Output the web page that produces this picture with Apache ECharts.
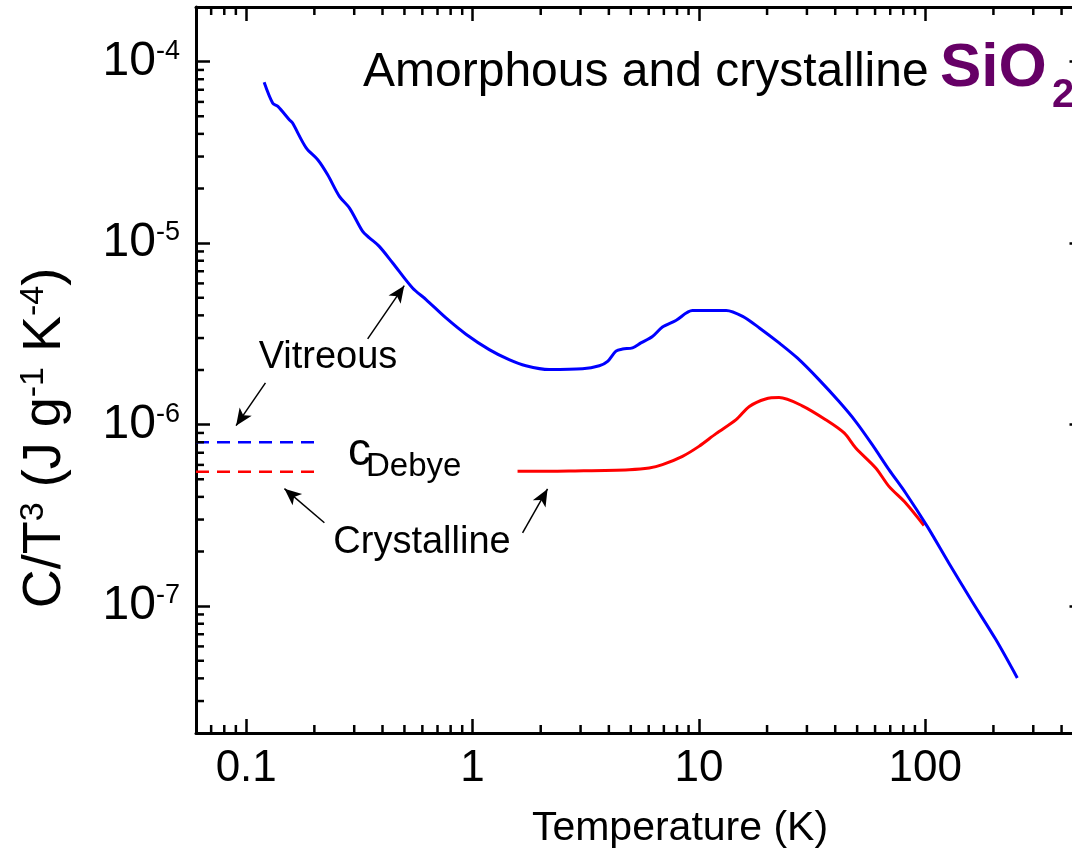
<!DOCTYPE html>
<html>
<head>
<meta charset="utf-8">
<script src="https://cdn.jsdelivr.net/npm/echarts@6/dist/echarts.min.js"></script>
<style>
html, body { margin: 0; padding: 0; background: #fff; overflow: hidden; width: 1072px; height: 852px; }
#chart { width: 1100px; height: 852px; }
</style>
</head>
<body>
<div id="chart"></div>
<script>
// ---- data ----
const vitreousT = [0.12, 0.131, 0.138, 0.155, 0.160, 0.184, 0.207, 0.229, 0.258, 0.286, 0.327, 0.35, 0.387, 0.443, 0.543, 0.623, 0.763, 0.935, 1.185, 1.45, 1.72, 2.18, 3.06, 3.63, 3.95, 4.30, 4.60, 5.09, 5.54, 6.23, 6.90, 7.91, 9.36, 11.1, 13.2, 15.6, 18.5, 22.6, 27.2, 33.9, 41.6, 49.3, 58.3, 69.1, 81.9, 102, 127, 161, 205, 255];
const vitreousC = [7.7e-5, 5.9e-5, 5.67e-5, 4.79e-5, 4.6e-5, 3.35e-5, 2.88e-5, 2.38e-5, 1.81e-5, 1.56e-5, 1.16e-5, 1.07e-5, 9.6e-6, 7.8e-6, 5.66e-6, 4.89e-6, 3.87e-6, 3.15e-6, 2.59e-6, 2.28e-6, 2.11e-6, 2.01e-6, 2.03e-6, 2.11e-6, 2.23e-6, 2.54e-6, 2.61e-6, 2.65e-6, 2.82e-6, 3.06e-6, 3.45e-6, 3.75e-6, 4.25e-6, 4.25e-6, 4.26e-6, 3.95e-6, 3.41e-6, 2.82e-6, 2.33e-6, 1.77e-6, 1.34e-6, 1.04e-6, 7.76e-7, 5.65e-7, 4.2e-7, 2.75e-7, 1.73e-7, 1.06e-7, 6.54e-8, 4.02e-8];
const crystT = [1.58, 2.18, 2.67, 4.92, 6.03, 6.90, 8.46, 10.0, 11.9, 14.6, 16.7, 19.7, 22.6, 28.6, 36.3, 43.8, 49.3, 60.4, 69.1, 81.9, 98.7];
const crystC = [5.53e-7, 5.53e-7, 5.55e-7, 5.65e-7, 5.77e-7, 6.02e-7, 6.69e-7, 7.59e-7, 8.92e-7, 1.065e-6, 1.26e-6, 1.385e-6, 1.41e-6, 1.27e-6, 1.065e-6, 9.0e-7, 7.44e-7, 5.77e-7, 4.57e-7, 3.7e-7, 2.78e-7];
const debyeT = [0.06, 0.2];
const debyeVitreous = 8.0e-7;
const debyeCrystalline = 5.5e-7;
const xMin = 0.06, xMax = 500;
const yMin = 2e-8, yMax = 2e-4;
const xMinorTicks = [0.07, 0.08, 0.09, 0.2, 0.3, 0.4, 0.5, 0.6, 0.7, 0.8, 0.9, 2, 3, 4, 5, 6, 7, 8, 9, 20, 30, 40, 50, 60, 70, 80, 90, 200, 300, 400];
const yMinorTicks = [3e-8, 4e-8, 5e-8, 6e-8, 7e-8, 8e-8, 9e-8, 2e-7, 3e-7, 4e-7, 5e-7, 6e-7, 7e-7, 8e-7, 9e-7, 2e-6, 3e-6, 4e-6, 5e-6, 6e-6, 7e-6, 8e-6, 9e-6, 2e-5, 3e-5, 4e-5, 5e-5, 6e-5, 7e-5, 8e-5, 9e-5];
// annotation arrows: [tailT, tailC, headT, headC]
const arrows = [
  [0.344, 2.97e-6, 0.499, 5.83e-6],
  [0.1216, 1.70e-6, 0.0902, 9.87e-7],
  [0.2215, 2.88e-7, 0.1475, 4.44e-7],
  [1.663, 2.53e-7, 2.144, 4.42e-7]
];

const FONT = 'Liberation Sans';
const chart = echarts.init(document.getElementById('chart'), null, { renderer: 'canvas' });

function isPow10(v) {
  const l = Math.log10(v);
  return Math.abs(l - Math.round(l)) < 1e-6;
}

function minorRender(isX) {
  return function (params, api) {
    const cs = params.coordSys;
    const L = 8;
    const style = { stroke: '#000', lineWidth: 2.5 };
    if (isX) {
      const x = api.coord([api.value(0), api.value(1)])[0];
      return { type: 'group', children: [
        { type: 'line', shape: { x1: x, y1: cs.y + cs.height, x2: x, y2: cs.y + cs.height - L }, style: style },
        { type: 'line', shape: { x1: x, y1: cs.y, x2: x, y2: cs.y + L }, style: style }
      ]};
    }
    const y = api.coord([api.value(0), api.value(1)])[1];
    return { type: 'group', children: [
      { type: 'line', shape: { x1: cs.x, y1: y, x2: cs.x + L, y2: y }, style: style },
      { type: 'line', shape: { x1: cs.x + cs.width, y1: y, x2: cs.x + cs.width - L, y2: y }, style: style }
    ]};
  };
}

const axisCommon = {
  type: 'log', logBase: 10,
  axisLine: { show: true, lineStyle: { color: '#000', width: 3 } },
  axisTick: { show: true, inside: true, length: 14, lineStyle: { color: '#000', width: 2.5 } },
  splitLine: { show: false }, minorTick: { show: false }
};

const arrowData = arrows.map(a => [
  { coord: [a[0], a[1]] },
  { coord: [a[2], a[3]] }
]);

const option = {
  animation: false,
  backgroundColor: '#fff',
  grid: { left: 196, top: 7, width: 887.5, height: 726, containLabel: false },
  xAxis: [
    Object.assign({}, axisCommon, {
      position: 'bottom', min: xMin, max: xMax, splitNumber: 4,
      axisLabel: { show: true, margin: 14, color: '#000', fontFamily: FONT, fontSize: 44,
        formatter: v => isPow10(v) ? String(+v.toPrecision(3)) : '' }
    }),
    Object.assign({}, axisCommon, {
      position: 'top', min: xMin, max: xMax, splitNumber: 4,
      axisLabel: { show: false }
    })
  ],
  yAxis: [
    Object.assign({}, axisCommon, {
      position: 'left', min: yMin, max: yMax, splitNumber: 4,
      axisLabel: { show: true, margin: 16, color: '#000', fontFamily: FONT,
        formatter: v => isPow10(v) ? '{b|10}{s|' + Math.round(Math.log10(v)) + '}' : '',
        rich: {
          b: { fontSize: 48, fontFamily: FONT, color: '#000', lineHeight: 48 },
          s: { fontSize: 27, fontFamily: FONT, color: '#000', verticalAlign: 'top', lineHeight: 24 }
        }
      }
    }),
    Object.assign({}, axisCommon, {
      position: 'right', min: yMin, max: yMax, splitNumber: 4,
      axisLabel: { show: false }
    })
  ],
  series: [
    {
      type: 'line', name: 'Vitreous', data: vitreousT.map((t, i) => [t, vitreousC[i]]),
      showSymbol: false, smooth: 0.3, lineStyle: { color: '#0000ff', width: 3 }, z: 5
    },
    {
      type: 'line', name: 'Crystalline', data: crystT.map((t, i) => [t, crystC[i]]),
      showSymbol: false, smooth: 0.3, lineStyle: { color: '#ff0000', width: 3 }, z: 4
    },
    {
      type: 'line', name: 'Debye vitreous', data: debyeT.map(t => [t, debyeVitreous]),
      showSymbol: false, lineStyle: { color: '#0000ff', width: 2.5, type: [13, 8] }
    },
    {
      type: 'line', name: 'Debye crystalline', data: debyeT.map(t => [t, debyeCrystalline]),
      showSymbol: false, lineStyle: { color: '#ff0000', width: 2.5, type: [13, 8] },
      markLine: {
        silent: true, animation: false,
        symbol: ['none', 'arrow'], symbolSize: [11, 17],
        label: { show: false },
        lineStyle: { color: '#000', width: 1.5, type: 'solid' },
        data: arrowData
      }
    },
    {
      type: 'custom', name: 'xminor', renderItem: minorRender(true), silent: true,
      data: xMinorTicks.map(v => [v, 1e-6]), encode: { x: 0, y: 1 }, z: 10
    },
    {
      type: 'custom', name: 'yminor', renderItem: minorRender(false), silent: true,
      data: yMinorTicks.map(v => [1, v]), encode: { x: 0, y: 1 }, z: 10
    }
  ],
  graphic: [
    { type: 'text', x: 363, y: 73, style: { text: 'Amorphous and crystalline', fontFamily: FONT, fontSize: 48, fill: '#000', align: 'left', verticalAlign: 'middle', textAlign: 'left', textVerticalAlign: 'middle' } },
    { type: 'text', x: 940, y: 69, style: { text: 'SiO', fontFamily: FONT, fontWeight: 'bold', fontSize: 62, fill: '#660066', align: 'left', verticalAlign: 'middle', textAlign: 'left', textVerticalAlign: 'middle' } },
    { type: 'text', x: 1052, y: 96, style: { text: '2', fontFamily: FONT, fontWeight: 'bold', fontSize: 40, fill: '#660066', align: 'left', verticalAlign: 'middle', textAlign: 'left', textVerticalAlign: 'middle' } },
    { type: 'text', x: 328, y: 358, style: { text: 'Vitreous', fontFamily: FONT, fontSize: 38, fill: '#000', align: 'center', verticalAlign: 'middle', textAlign: 'center', textVerticalAlign: 'middle' } },
    { type: 'text', x: 422, y: 543, style: { text: 'Crystalline', fontFamily: FONT, fontSize: 38, fill: '#000', align: 'center', verticalAlign: 'middle', textAlign: 'center', textVerticalAlign: 'middle' } },
    { type: 'text', x: 348, y: 452, style: { text: 'c', fontFamily: FONT, fontSize: 46, fill: '#000', align: 'left', verticalAlign: 'middle', textAlign: 'left', textVerticalAlign: 'middle' } },
    { type: 'text', x: 366, y: 467, style: { text: 'Debye', fontFamily: FONT, fontSize: 33, fill: '#000', align: 'left', verticalAlign: 'middle', textAlign: 'left', textVerticalAlign: 'middle' } },
    { type: 'text', x: 680, y: 829, style: { text: 'Temperature (K)', fontFamily: FONT, fontSize: 41, fill: '#000', align: 'center', verticalAlign: 'middle', textAlign: 'center', textVerticalAlign: 'middle' } },
    { type: 'text', x: 45, y: 438, rotation: Math.PI / 2,
      style: { text: '{a|C/T}{s|3}{a| (J g}{s|-1}{a| K}{s|-4}{a|)}', fontFamily: FONT, fontSize: 54, fill: '#000',
        align: 'center', verticalAlign: 'middle', textAlign: 'center', textVerticalAlign: 'middle',
        rich: {
          a: { fontFamily: FONT, fontSize: 54, lineHeight: 56, fill: '#000', color: '#000' },
          s: { fontFamily: FONT, fontSize: 34, lineHeight: 34, verticalAlign: 'top', fill: '#000', color: '#000' }
        } } }
  ]
};
chart.setOption(option);
</script>
</body>
</html>
